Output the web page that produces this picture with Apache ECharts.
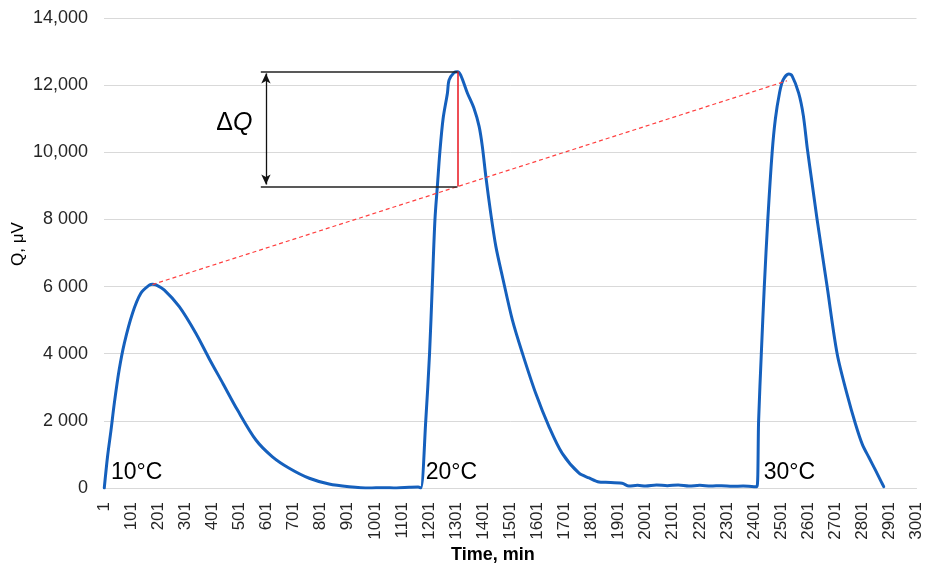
<!DOCTYPE html>
<html>
<head>
<meta charset="utf-8">
<script src="https://cdn.jsdelivr.net/npm/echarts@6/dist/echarts.min.js"></script>
<style>html,body{margin:0;padding:0;background:#fff}#c{width:925px;height:566px}</style>
</head>
<body>
<div id="c"></div>
<script>
// ---- data (time in min, Q in µV) ----
const peak10Time = [1, 13, 26, 38, 56, 75, 105, 136, 167, 179, 192, 222, 278, 339, 388, 440, 493, 561, 622, 684, 758, 831, 905, 979, 1030, 1080, 1127, 1160];
const peak10Q    = [0, 930, 1730, 2520, 3520, 4310, 5200, 5800, 6040, 6070, 6050, 5900, 5400, 4610, 3860, 3100, 2320, 1430, 930, 590, 290, 120, 40, 0, 10, 0, 20, 30];

const peak20Time = [1170, 1188, 1202, 1212, 1222, 1231, 1240, 1252, 1268, 1274, 1292, 1305, 1317, 1342, 1366, 1385, 1397, 1410, 1428, 1447, 1471, 1508, 1545, 1594, 1643, 1692, 1754, 1791, 1828, 1852, 1913, 1938, 1970, 2000, 2040, 2080, 2120, 2160, 2200, 2240, 2280, 2320, 2360, 2400];
const peak20Q    = [0, 2000, 4000, 6000, 8000, 9000, 10000, 11000, 11760, 12150, 12370, 12400, 12300, 11760, 11310, 10770, 10170, 9270, 8180, 7190, 6300, 5000, 4010, 2820, 1830, 1030, 440, 300, 180, 170, 140, 60, 80, 60, 90, 70, 90, 60, 80, 60, 70, 50, 60, 40];

const peak30Time = [2411, 2417, 2427, 2438, 2451, 2467, 2479, 2494, 2507, 2528, 2541, 2565, 2582, 2597, 2615, 2633, 2670, 2707, 2745, 2775, 2800, 2825, 2848, 2870, 2879];
const peak30Q    = [40, 2000, 4000, 6000, 8000, 10000, 11000, 11760, 12150, 12330, 12270, 11760, 11100, 10100, 9050, 8000, 6000, 4000, 2750, 1900, 1300, 900, 540, 180, 40];

const xTickLabels = ['1','101','201','301','401','501','601','701','801','901','1001','1101','1201','1301','1401','1501','1601','1701','1801','1901','2001','2101','2201','2301','2401','2501','2601','2701','2801','2901','3001'];
const yTickLabels = ['0','2 000','4 000','6 000','8 000','10,000','12,000','14,000'];

// annotation values
const trendStart = [179, 6060];
const trendEnd = [2522, 12130];
const dqTime = 1305;
const dqTop = 12410;
const dqBottom = 8980;
const dqLeftTime = 579;
const dqArrowTime = 598;
const dqLabelPos = [481, 10870];
const tempLabels = [
  {name: '10°C', coord: [26, 450]},
  {name: '20°C', coord: [1188, 450]},
  {name: '30°C', coord: [2436, 450]}
];

const FONT = '"Liberation Sans", Arial, sans-serif';
const blue = '#1560BD';

const seriesData = [];
[[peak10Time, peak10Q], [peak20Time, peak20Q], [peak30Time, peak30Q]].forEach(([t, q]) => {
  t.forEach((v, i) => seriesData.push([v, q[i]]));
});

const chart = echarts.init(document.getElementById('c'), null, {renderer: 'canvas'});
chart.setOption({
  animation: false,
  backgroundColor: '#fff',
  textStyle: {fontFamily: FONT},
  grid: {left: 104, right: 8, top: 18, bottom: 78, containLabel: false},
  xAxis: {
    type: 'value', min: 0, max: 3000, interval: 100,
    axisLine: {show: true, lineStyle: {color: '#d9d9d9', width: 1}},
    axisTick: {show: false},
    splitLine: {show: false},
    axisLabel: {
      rotate: 90, margin: 14, fontSize: 17, color: '#262626', fontFamily: FONT,
      formatter: v => xTickLabels[Math.round(v / 100)]
    }
  },
  yAxis: {
    type: 'value', min: 0, max: 14000, interval: 2000,
    axisLine: {show: false},
    axisTick: {show: false},
    splitLine: {show: true, lineStyle: {color: '#d9d9d9', width: 1}},
    axisLabel: {
      margin: 16, fontSize: 18, color: '#262626', fontFamily: FONT,
      formatter: v => yTickLabels[Math.round(v / 2000)]
    }
  },
  graphic: [
    {type: 'text', left: 451, top: 546, style: {text: 'Time, min', font: 'bold 18px ' + FONT, fill: '#000'}},
    {type: 'text', x: 18, y: 244, rotation: Math.PI / 2,
     style: {text: 'Q, μV', font: '17px ' + FONT, fill: '#000', align: 'center', verticalAlign: 'middle'}}
  ],
  series: [{
    type: 'line',
    data: seriesData,
    showSymbol: false,
    smooth: 0.3,
    lineStyle: {color: blue, width: 3, join: 'round', cap: 'round'},
    itemStyle: {color: blue},
    emphasis: {disabled: true},
    z: 3,
    markLine: {
      silent: true,
      symbol: 'none',
      label: {show: false},
      emphasis: {disabled: true},
      data: [
        [{coord: trendStart, lineStyle: {color: '#ff4040', type: [4, 3], width: 1.2}}, {coord: trendEnd}],
        [{coord: [dqTime, dqTop], lineStyle: {color: '#e8141e', type: 'solid', width: 1.5}}, {coord: [dqTime, dqBottom]}],
        [{coord: [dqLeftTime, dqTop], lineStyle: {color: '#222', type: 'solid', width: 1.6}}, {coord: [dqTime, dqTop]}],
        [{coord: [dqLeftTime, dqBottom], lineStyle: {color: '#222', type: 'solid', width: 1.6}}, {coord: [dqTime, dqBottom]}],
        [{coord: [dqArrowTime, dqTop - 60], symbol: 'arrow', symbolSize: [7, 10], lineStyle: {color: '#111', type: 'solid', width: 1.3}, itemStyle: {color: '#111'}},
         {coord: [dqArrowTime, dqBottom + 60], symbol: 'arrow', symbolSize: [7, 10], itemStyle: {color: '#111'}}]
      ]
    },
    markPoint: {
      silent: true,
      symbol: 'circle',
      symbolSize: 0,
      itemStyle: {color: 'transparent'},
      data: tempLabels.map(d => ({
        name: d.name, coord: d.coord,
        label: {show: true, position: 'right', distance: 0, formatter: '{b}', fontSize: 23, color: '#000', fontFamily: FONT}
      })).concat([{
        name: 'dQ', coord: dqLabelPos,
        label: {show: true, position: 'inside', formatter: '{a|Δ}{b|Q}',
          rich: {a: {fontSize: 25, color: '#000', fontFamily: FONT}, b: {fontSize: 25, fontStyle: 'italic', color: '#000', fontFamily: FONT}}}
      }])
    }
  }]
});
</script>
</body>
</html>
